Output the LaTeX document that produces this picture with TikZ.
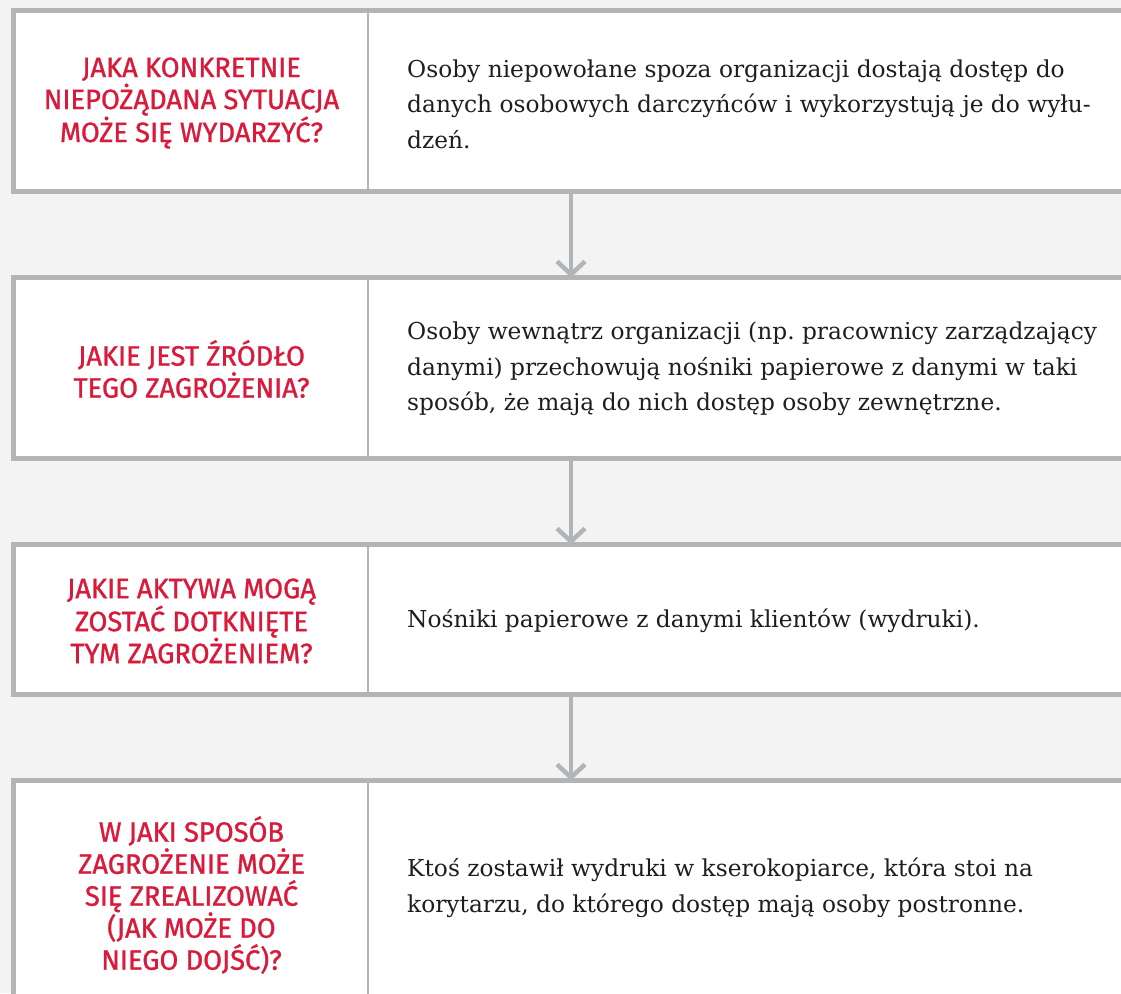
\documentclass[tikz,border=0pt]{standalone}
\usepackage{fontspec}
\newfontfamily\redfont[FakeStretch=0.975,FakeBold=1.1]{Fira Sans}
\newfontfamily\bodyfont{DejaVu Serif}
\usetikzlibrary{arrows.meta,calc}
\definecolor{bg}{HTML}{F2F3F2}
\definecolor{frame}{HTML}{B2B5B7}
\definecolor{qred}{HTML}{D91A3A}
\definecolor{ink}{HTML}{1E1E1E}
\frenchspacing
\begin{document}
\begin{tikzpicture}[x=1pt,y=-1pt,
  card/.style={draw=frame,line width=5pt,fill=white,anchor=north west,
    minimum width=1130pt,inner sep=0pt,outer sep=0pt},
  divider/.style={draw=frame,line width=2.5pt},
  arr/.style={draw=frame,line width=4.5pt,-{Straight Barb[length=13pt,width=28pt]}},
  q/.style={text=qred,align=center,inner sep=0pt,anchor=center,
    font={\redfont\fontsize{28}{32}\selectfont}},
  a/.style={text=ink,align=left,inner sep=0pt,anchor=west,
    font={\bodyfont\fontsize{23.3}{35.5}\selectfont}}]
\fill[bg] (0,0) rectangle (1121,993);
\useasboundingbox (0,0) rectangle (1121,993);
\clip (0,0) rectangle (1121,993);
\coordinate (d) at (368,0);
\coordinate (ax) at (571,0);
\node[card,minimum height=181pt] (b1) at (13.5,10.5) {};
\node[card,minimum height=181pt] (b2) at (13.5,277.5) {};
\node[card,minimum height=150pt] (b3) at (13.5,544.5) {};
\node[card,minimum height=230pt] (b4) at (13.5,780.5) {};
\foreach \b in {b1,b2,b3,b4}{\draw[divider] (\b.north -| d) -- (\b.south -| d);}
\draw[arr] (b1.south -| ax) -- (b2.north -| ax);
\draw[arr] (b2.south -| ax) -- (b3.north -| ax);
\draw[arr] (b3.south -| ax) -- (b4.north -| ax);
\node[q] (q1) at (191.5,103) {JAKA KONKRETNIE\\NIEPOŻĄDANA SYTUACJA\\MOŻE SIĘ WYDARZYĆ?};
\node[a] (a1) at (407,104) {Osoby niepowołane spoza organizacji dostają dostęp do\\danych osobowych darczyńców i wykorzystują je do wyłu-\\dzeń.};
\node[q] (q2) at (191.5,369) {JAKIE JEST ŹRÓDŁO\\TEGO ZAGROŻENIA?};
\node[a] (a2) at (407,369) {Osoby wewnątrz organizacji (np.\ pracownicy zarządzający\\danymi) przechowują nośniki papierowe z danymi w taki\\sposób, że mają do nich dostęp osoby zewnętrzne.};
\node[q] (q3) at (191.5,621) {JAKIE AKTYWA MOGĄ\\ZOSTAĆ DOTKNIĘTE\\TYM ZAGROŻENIEM?};
\node[a] (a3) at (407,621) {Nośniki papierowe z danymi klientów (wydruki).};
\node[q] (q4) at (191.5,895) {W JAKI SPOSÓB\\ZAGROŻENIE MOŻE\\SIĘ ZREALIZOWAĆ\\(JAK MOŻE DO\\NIEGO DOJŚĆ)?};
\node[a] (a4) at (407,888) {Ktoś zostawił wydruki w kserokopiarce, która stoi na\\korytarzu, do którego dostęp mają osoby postronne.};
\end{tikzpicture}
\end{document}
